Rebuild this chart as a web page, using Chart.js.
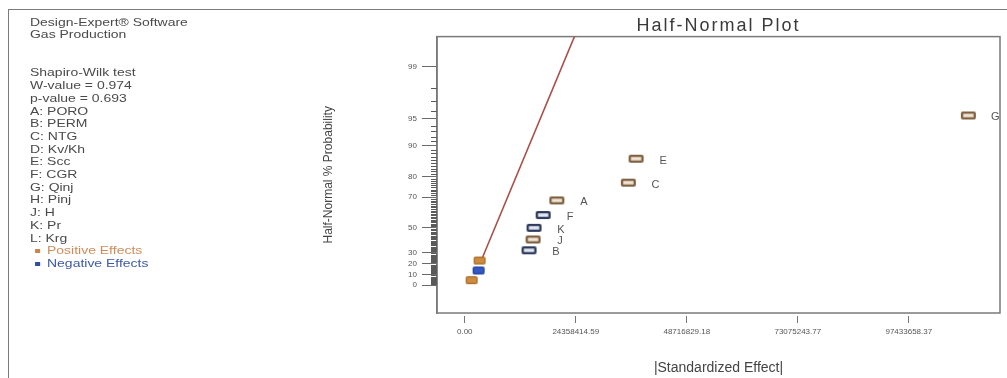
<!DOCTYPE html>
<html>
<head>
<meta charset="utf-8">
<script src="https://cdn.jsdelivr.net/npm/chart.js"></script>
<style>
  html, body { margin: 0; padding: 0; background: #fff; overflow: hidden; }
  #wrap { position: relative; width: 1007px; height: 378px; overflow: hidden; }
  #frame { position: absolute; left: 8px; top: 9px; width: 1100px; height: 500px;
           border-left: 1.5px solid #7a7a7a; border-top: 1.5px solid #7a7a7a; }
  #chart { position: absolute; left: 0; top: 0; }
  #info { position: absolute; left: 30px; top: 15.6px; font: 11px "Liberation Sans", Arial, sans-serif;
          color: #4a4a4a; line-height: 12.7px; transform: scaleX(1.27); transform-origin: 0 0; white-space: pre; }
  .sw { display: inline-block; width: 4px; height: 4px; margin-left: 4px; margin-right: 5.4px; vertical-align: 1px; }
</style>
</head>
<body>
<div id="wrap">
  <div id="frame"></div>
  <canvas id="chart" width="1007" height="378"></canvas>
  <div id="info">Design-Expert® Software
Gas Production


Shapiro-Wilk test
W-value = 0.974
p-value = 0.693
A: PORO
B: PERM
C: NTG
D: Kv/Kh
E: Scc
F: CGR
G: Qinj
H: Pinj
J: H
K: Pr
L: Krg
<span style="color:#cf8c5a"><span class="sw" style="background:#c8874a"></span>Positive Effects</span>
<span style="color:#3d5aa6"><span class="sw" style="background:#2f4f9e"></span>Negative Effects</span></div>
</div>
<script>
// ---------------- data ----------------
const xTickValues   = [0, 24358414.59, 48716829.18, 73075243.77, 97433658.37];
const yTickPercents = [0, 10, 20, 30, 50, 70, 80, 90, 95, 99];
const effectLabels  = ['G', 'E', 'C', 'A', 'F', 'K', 'J', 'B', 'L', 'H', 'D'];
const effectSizes   = [110.5e6, 37.6e6, 35.9e6, 20.2e6, 17.2e6, 15.2e6, 15.0e6, 14.1e6, 3.26e6, 3.04e6, 1.52e6];
const effectProbs   = [95.45, 86.36, 77.27, 68.18, 59.09, 50.0, 40.91, 31.82, 22.73, 13.64, 4.55];
const effectSigns   = ['+', '+', '+', '+', '-', '-', '+', '-', '+', '-', '+'];
const effectLabelled = [true, true, true, true, true, true, true, true, false, false, false];
const fitLineSizes  = [3.48e6, 26.86e6];
const fitLineProbs  = [21.4, 99.9];

// ---------------- half-normal probability transform ----------------
function normInv(p) {
  const a = [-3.969683028665376e+01, 2.209460984245205e+02, -2.759285104469687e+02, 1.383577518672690e+02, -3.066479806614716e+01, 2.506628277459239e+00];
  const b = [-5.447609879822406e+01, 1.615858368580409e+02, -1.556989798598866e+02, 6.680131188771972e+01, -1.328068155288572e+01];
  const c = [-7.784894002430293e-03, -3.223964580411365e-01, -2.400758277161838e+00, -2.549732539343734e+00, 4.374664141464968e+00, 2.938163982698783e+00];
  const d = [7.784695709041462e-03, 3.224671290700398e-01, 2.445134137142996e+00, 3.754408661907416e+00];
  const pl = 0.02425, ph = 1 - pl;
  let q, r;
  if (p < pl) {
    q = Math.sqrt(-2 * Math.log(p));
    return (((((c[0]*q+c[1])*q+c[2])*q+c[3])*q+c[4])*q+c[5]) / ((((d[0]*q+d[1])*q+d[2])*q+d[3])*q+1);
  }
  if (p <= ph) {
    q = p - 0.5; r = q * q;
    return (((((a[0]*r+a[1])*r+a[2])*r+a[3])*r+a[4])*r+a[5])*q / (((((b[0]*r+b[1])*r+b[2])*r+b[3])*r+b[4])*r+1);
  }
  q = Math.sqrt(-2 * Math.log(1 - p));
  return -(((((c[0]*q+c[1])*q+c[2])*q+c[3])*q+c[4])*q+c[5]) / ((((d[0]*q+d[1])*q+d[2])*q+d[3])*q+1);
}
const hn = pct => normInv(0.5 + pct / 200);

// minor ticks on the probability axis (every whole percent)
const yMinorPercents = [];
for (let p = 1; p < 99; p++) if (!yTickPercents.includes(p)) yMinorPercents.push(p);

// ---------------- markers ----------------
function boxMarker(w, h, stroke, fill, lw, rad) {
  const cv = document.createElement('canvas');
  cv.width = w + 2; cv.height = h + 2;
  const g = cv.getContext('2d');
  g.lineWidth = lw; g.strokeStyle = stroke; g.fillStyle = fill;
  g.beginPath();
  if (g.roundRect) g.roundRect(1 + lw / 2, 1 + lw / 2, w - lw, h - lw, rad);
  else g.rect(1 + lw / 2, 1 + lw / 2, w - lw, h - lw);
  g.fill(); g.stroke();
  return cv;
}
const markers = {
  '+hollow': boxMarker(15, 8, '#7e6040', '#f0e4d4', 2.3, 0.8),
  '-hollow': boxMarker(15, 8, '#2e3a5c', '#e2e6ef', 2.3, 0.8),
  '+filled': boxMarker(12, 8, '#a86e2c', '#cd8c3e', 1.2, 1.5),
  '-filled': boxMarker(12, 8, '#24449e', '#3358c4', 1.2, 1.5)
};
const pointStyles = effectSigns.map((s, i) => markers[s + (effectLabelled[i] ? 'hollow' : 'filled')]);

const FONT = '"Liberation Sans", Arial, sans-serif';

// ---------------- plugins ----------------
const framePlugin = {
  id: 'frame',
  beforeDatasetsDraw(chart) {
    const { ctx, chartArea: a } = chart;
    ctx.save();
    ctx.strokeStyle = '#7a7a7a';
    ctx.lineWidth = 1.5;
    ctx.strokeRect(a.left, a.top, a.right - a.left, a.bottom - a.top);
    // minor ticks on the half-normal axis
    const ys = chart.scales.y;
    ctx.lineWidth = 1;
    ctx.strokeStyle = '#5a5a5a';
    ctx.beginPath();
    yMinorPercents.forEach(p => {
      const y = Math.round(ys.getPixelForValue(hn(p))) + 0.5;
      ctx.moveTo(a.left - 6, y);
      ctx.lineTo(a.left, y);
    });
    ctx.stroke();
    ctx.restore();
  }
};
const labelPlugin = {
  id: 'pointLabels',
  afterDatasetsDraw(chart) {
    const { ctx } = chart;
    const meta = chart.getDatasetMeta(1);
    ctx.save();
    ctx.font = '11px ' + FONT;
    ctx.fillStyle = '#555';
    ctx.textAlign = 'center';
    ctx.textBaseline = 'middle';
    meta.data.forEach((el, i) => {
      if (effectLabelled[i]) ctx.fillText(effectLabels[i], el.x + 27, el.y + 2);
    });
    ctx.restore();
  }
};
const titleSpacing = {
  id: 'titleSpacing',
  afterInit(chart) {
    const t = chart.titleBlock;
    if (!t) return;
    const orig = t.draw.bind(t);
    t.draw = function () {
      chart.ctx.save();
      chart.ctx.letterSpacing = '2px';
      orig();
      chart.ctx.restore();
    };
  }
};

// ---------------- chart ----------------
new Chart(document.getElementById('chart'), {
  type: 'scatter',
  data: {
    datasets: [
      {
        label: 'fit',
        data: fitLineSizes.map((x, i) => ({ x, y: hn(fitLineProbs[i]) })),
        showLine: true,
        borderColor: '#a94f4a',
        borderWidth: 1.6,
        pointRadius: 0,
        order: 1
      },
      {
        label: 'effects',
        data: effectSizes.map((x, i) => ({ x, y: hn(effectProbs[i]) })),
        pointStyle: pointStyles,
        pointRadius: 6,
        order: 0
      }
    ]
  },
  options: {
    responsive: false,
    animation: false,
    devicePixelRatio: 1,
    layout: { padding: { left: 318, right: 2, top: 0, bottom: 0 } },
    plugins: {
      legend: { display: false },
      tooltip: { enabled: false },
      title: {
        display: true,
        text: 'Half-Normal Plot',
        fullSize: false,
        color: '#3a3a3a',
        font: { family: FONT, size: 18, weight: 'normal', lineHeight: 1.2 },
        padding: { top: 15, bottom: 0 }
      }
    },
    scales: {
      x: {
        type: 'linear',
        min: -6.09e6,
        max: 117.44e6,
        afterBuildTicks: s => { s.ticks = xTickValues.map(v => ({ value: v })); },
        ticks: {
          callback: v => Number(v).toFixed(2),
          font: { family: FONT, size: 8 },
          color: '#555',
          padding: 4,
          maxRotation: 0,
          autoSkip: false
        },
        grid: { drawOnChartArea: false, tickLength: 10, tickColor: '#777', tickWidth: 1, tickBorderDash: [0, 3, 7, 100] },
        border: { display: false },
        title: {
          display: true,
          text: '|Standardized Effect|',
          color: '#444',
          font: { family: FONT, size: 14, lineHeight: 1.2 },
          padding: { top: 0, bottom: 1 }
        },
        afterFit: s => { s.height = 65; }
      },
      y: {
        type: 'linear',
        min: -0.33,
        max: 2.93,
        afterBuildTicks: s => { s.ticks = yTickPercents.map(p => ({ value: hn(p) })); },
        ticks: {
          callback: (v, i) => String(yTickPercents[i]),
          font: { family: FONT, size: 8 },
          color: '#555',
          padding: 5,
          autoSkip: false
        },
        grid: { drawOnChartArea: false, tickLength: 15, tickColor: '#6a6a6a', tickWidth: 1 },
        border: { color: '#7a7a7a', width: 1.5 },
        title: {
          display: true,
          text: 'Half-Normal % Probability',
          color: '#444',
          font: { family: FONT, size: 12, lineHeight: 1.2 },
          padding: { top: 3, bottom: 0 }
        },
        afterFit: s => { s.width = 119; }
      }
    }
  },
  plugins: [titleSpacing, framePlugin, labelPlugin]
});
</script>
</body>
</html>
